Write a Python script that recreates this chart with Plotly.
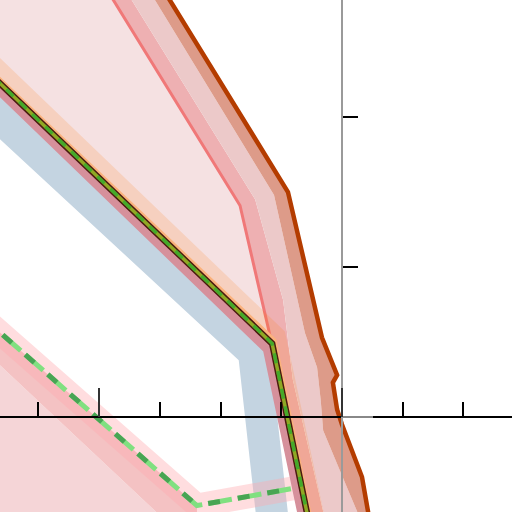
import plotly.graph_objects as go

# ---- data (axis units) ----
X_RANGE = [-5.634, 2.801]
Y_RANGE = [-0.633, 2.78]

red_x = [-4.27, -1.68, -1.19, -0.49]
red_y = [3.11, 1.41, 0.55, -0.77]

pinkedge_x = [-3.97, -1.43, -0.97, -0.81, -0.23]
pinkedge_y = [3.11, 1.45, 0.78, 0.25, -0.77]

salmonedge_x = [-3.58, -1.12, -0.61, -0.41, -0.35, -0.31, 0.0, 0.25, 0.33]
salmonedge_y = [3.11, 1.48, 0.56, 0.33, 0.11, -0.09, -0.39, -0.63, -0.77]

dark_x = [-3.34, -0.89, -0.33, -0.08, -0.15, -0.08, 0.0, 0.33, 0.49]
dark_y = [3.11, 1.50, 0.53, 0.28, 0.23, 0.05, -0.05, -0.40, -0.77]

olive_x = [-5.96, -1.15, -0.51]
olive_y = [2.35, 0.49, -0.77]

orange_x = [-5.96, -1.12, -0.48]
orange_y = [2.37, 0.51, -0.77]

under_x = [-5.96, -1.20, -0.56]
under_y = [2.32, 0.46, -0.77]

peach_x = [-5.96, -0.94, -0.23]
peach_y = [2.52, 0.57, -0.77]

blue_x = [-5.96, -1.45, -1.12]
blue_y = [2.12, 0.43, -0.77]

green_x = [-5.96, -2.39, -0.73]
green_y = [0.68, -0.59, -0.47]

low_x = [-5.96, -2.70]
low_y = [0.47, -0.77]

fig = go.Figure()

def poly(xs, ys, color):
    fig.add_trace(go.Scatter(x=xs, y=ys, mode="lines", fill="toself",
                             fillcolor=color, line=dict(width=0),
                             hoverinfo="skip", showlegend=False))

def line(xs, ys, color, width, dash="solid"):
    fig.add_trace(go.Scatter(x=xs, y=ys, mode="lines",
                             line=dict(color=color, width=width, dash=dash),
                             hoverinfo="skip", showlegend=False))

# very light pink area
poly(red_x[:3] + olive_x[1::-1] + [olive_x[0]],
     red_y[:3] + olive_y[1::-1] + [red_y[0]], "#f5e1e2")
# blue band
line(blue_x, blue_y, "#c4d4e1", 32)
# red/orange bands
poly(red_x + pinkedge_x[::-1], red_y + pinkedge_y[::-1], "#eeb0b2")
poly(pinkedge_x + salmonedge_x[::-1], pinkedge_y + salmonedge_y[::-1], "#ecc9c9")
poly(salmonedge_x + dark_x[::-1], salmonedge_y + dark_y[::-1], "#dd9b89")
line(red_x, red_y, "#f07878", 3)
# peach band
poly(peach_x + olive_x[::-1], peach_y + olive_y[::-1], "rgba(255,127,14,0.16)")
line(dark_x, dark_y, "#b43c00", 4.5)

# lower-left pink areas
poly(low_x + [low_x[0]], low_y + [low_y[1]], "#f5d5d7")
poly(green_x[:2] + [green_x[1]] + low_x[::-1],
     green_y[:2] + [low_y[1]] + low_y[::-1], "#f4c2c3")
line(green_x, green_y, "rgba(255,170,175,0.4)", 24)
line(green_x, green_y, "#80e080", 5, "24px,6px")
line(green_x, green_y, "rgba(58,150,72,0.8)", 5, "12px,18px")

# olive main line
line(under_x, under_y, "#d6909b", 13)
line(orange_x, orange_y, "#fbb27c", 5)
line(olive_x, olive_y, "#4a1c10", 6.5)
line(olive_x, olive_y, "#8fa824", 3.5)
line(olive_x, olive_y, "rgba(44,170,44,0.75)", 3.5, "10px,8px")

fig.add_trace(go.Scatter(x=[None], y=[None], xaxis="x2", yaxis="y2",
                         hoverinfo="skip", showlegend=False))

fig.update_layout(
    width=512, height=512, margin=dict(l=0, r=0, t=0, b=0),
    paper_bgcolor="white", plot_bgcolor="white", showlegend=False,
    xaxis=dict(range=X_RANGE, anchor="free", position=95 / 512, side="bottom",
               showline=True, linecolor="#000", linewidth=2,
               ticks="inside", ticklen=14, tickwidth=2, tickcolor="#000",
               tick0=0, dtick=1, showticklabels=False, showgrid=False, zeroline=False),
    yaxis=dict(range=Y_RANGE, anchor="free", position=342 / 512, side="left",
               showline=True, linecolor="#9a9a9a", linewidth=2,
               ticks="inside", ticklen=15, tickwidth=1.5, tickcolor="#000",
               tick0=0, dtick=1, showticklabels=False, showgrid=False, zeroline=False),
    xaxis2=dict(range=X_RANGE, overlaying="x", anchor="free", position=95 / 512,
                side="bottom", showline=False, ticks="inside", ticklen=29,
                tickwidth=2, tickcolor="#333", tick0=0, dtick=4,
                showticklabels=False, showgrid=False, zeroline=False),
    yaxis2=dict(range=Y_RANGE, overlaying="y", anchor="free", position=342 / 512,
                side="left", showline=False, ticks="inside", ticklen=30,
                tickwidth=2, tickcolor="#888", tick0=0, dtick=4,
                showticklabels=False, showgrid=False, zeroline=False),
)

fig.write_html("out.html", config={"displayModeBar": False},
               post_script="document.body.style.margin='0px';document.body.style.padding='0px';")
